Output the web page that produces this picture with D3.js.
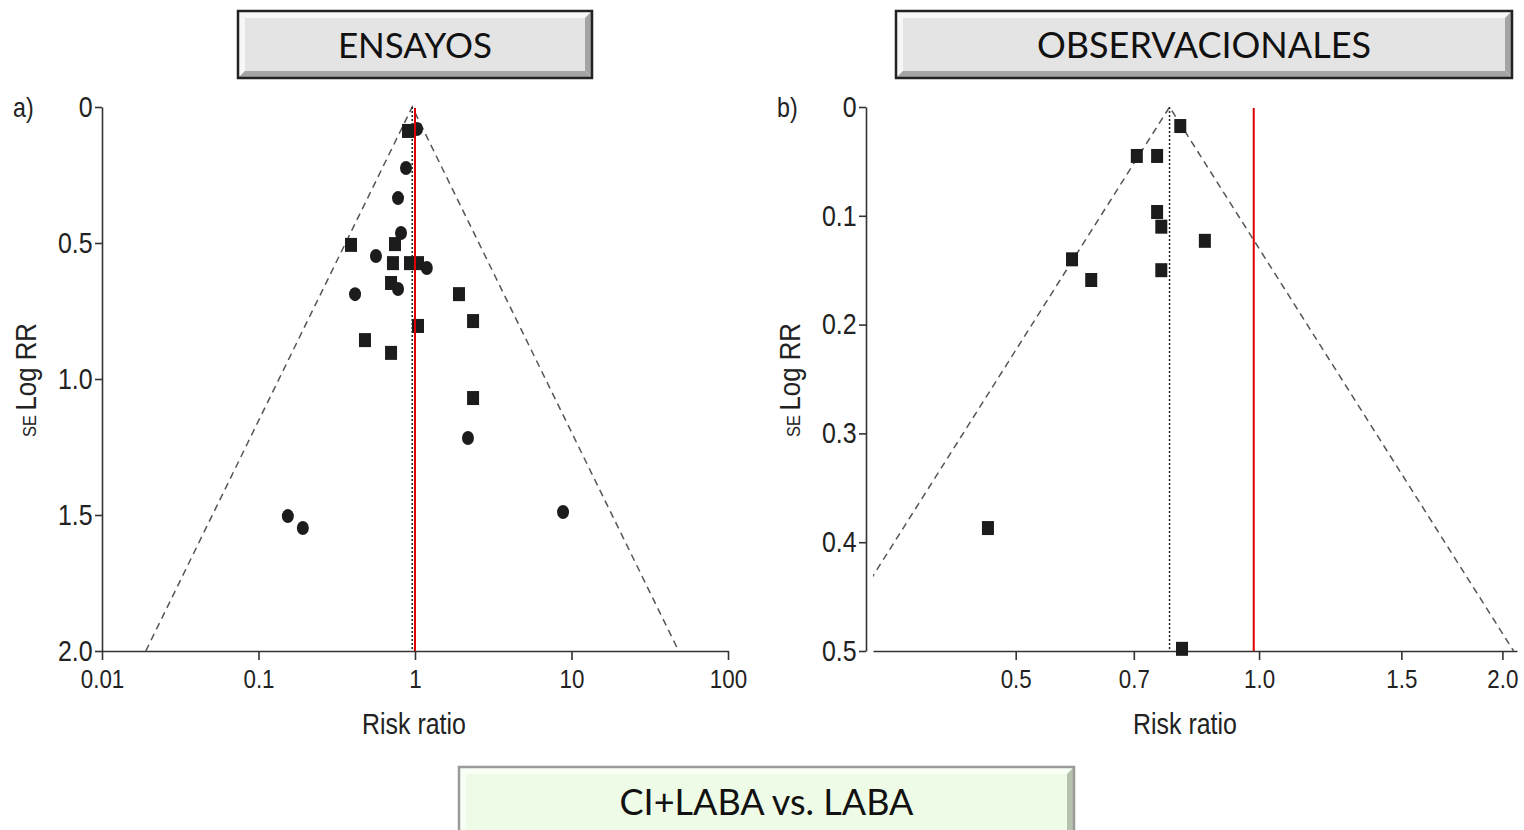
<!DOCTYPE html>
<html>
<head>
<meta charset="utf-8">
<script src="https://cdn.jsdelivr.net/npm/d3@7"></script>
<style>
  body { margin: 0; background: #fff; }
  svg text { font-family: "Liberation Sans Narrow", "Arial Narrow", "Liberation Sans", Arial, sans-serif; }
  .axis path, .axis line { stroke: #333; stroke-width: 1.6; }
  .axis text { font-size: 26px; fill: #222; }
  .yaxis text { font-size: 29px; }
  .box text { font-family: Lato, "Open Sans", sans-serif; }
</style>
</head>
<body>
<svg id="chart" width="1524" height="830"></svg>
<script>
// ---- data: ensayos (trials), risk ratio vs SE log RR
const trialCirclesRR = [1.03, 0.876, 0.779, 0.814, 0.563, 1.19, 0.779, 0.414, 2.18, 0.154, 0.192, 8.83]
const trialCirclesSE = [0.081, 0.224, 0.335, 0.463, 0.548, 0.592, 0.669, 0.688, 1.217, 1.504, 1.548, 1.489]
const trialSquaresRR = [0.902, 0.39, 0.745, 0.723, 0.929, 1.045, 0.703, 1.91, 2.35, 1.045, 0.479, 0.703, 2.35]
const trialSquaresSE = [0.088, 0.507, 0.504, 0.574, 0.574, 0.574, 0.647, 0.688, 0.787, 0.805, 0.857, 0.904, 1.07]
const trialPooled = 0.96
const trialRedLine = 1

// ---- data: observacionales
const obsSquaresRR = [0.799, 0.706, 0.748, 0.748, 0.757, 0.857, 0.587, 0.62, 0.757, 0.462, 0.803]
const obsSquaresSE = [0.0175, 0.045, 0.045, 0.0965, 0.11, 0.123, 0.14, 0.159, 0.15, 0.387, 0.498]
const obsPooled = 0.775
const obsRedLine = 0.985

const trialXTicks = [0.01, 0.1, 1, 10, 100]
const trialYTicks = [0, 0.5, 1.0, 1.5, 2.0]
const obsXTicks = [0.5, 0.7, 1.0, 1.5, 2.0]
const obsYTicks = [0, 0.1, 0.2, 0.3, 0.4, 0.5]

const narrow = 'scale(0.86,1)'
const svg = d3.select('#chart')

// beveled title boxes
function drawBox (x, y, w, h, label, fill, light, edge, border, size) {
  const g = svg.append('g').attr('class', 'box')
  const b = 7
  g.append('rect').attr('x', x).attr('y', y).attr('width', w).attr('height', h).attr('fill', fill)
  g.append('polygon').attr('points', [[x, y], [x + w, y], [x + w - b, y + b], [x + b, y + b]].join(' ')).attr('fill', light)
  g.append('polygon').attr('points', [[x, y], [x + b, y + b], [x + b, y + h - b], [x, y + h]].join(' ')).attr('fill', light)
  g.append('polygon').attr('points', [[x + w, y], [x + w, y + h], [x + w - b, y + h - b], [x + w - b, y + b]].join(' ')).attr('fill', edge)
  g.append('polygon').attr('points', [[x, y + h], [x + b, y + h - b], [x + w - b, y + h - b], [x + w, y + h]].join(' ')).attr('fill', edge)
  g.append('rect').attr('x', x).attr('y', y).attr('width', w).attr('height', h)
    .attr('fill', 'none').attr('stroke', border).attr('stroke-width', 2.5)
  g.append('text').attr('x', x + w / 2).attr('y', y + h / 2 - 1)
    .attr('text-anchor', 'middle').attr('dominant-baseline', 'central')
    .style('font-size', size + 'px').attr('fill', '#111').text(label)
}

drawBox(238, 11, 354, 67, 'ENSAYOS', '#e4e4e4', '#f7f7f7', '#a4a4a4', '#222', 35)
drawBox(896, 11, 616, 67, 'OBSERVACIONALES', '#e4e4e4', '#f7f7f7', '#a4a4a4', '#222', 36)
drawBox(459, 767, 615, 70, 'CI+LABA vs. LABA', '#eefbe6', '#f8fff4', '#b6c2ae', '#9a9a9a', 36)

function funnel (opt) {
  const x = d3.scaleLog().domain(opt.xDomain).range(opt.xRange)
  const y = d3.scaleLinear().domain(opt.yDomain).range([107, 651])
  const g = svg.append('g')

  // axes
  g.append('g').attr('class', 'axis yaxis').attr('transform', `translate(${opt.yAxisX},0)`)
    .call(d3.axisLeft(y).tickValues(opt.yTicks).tickSize(7).tickSizeOuter(0).tickFormat(opt.yFormat))
    .call(a => a.selectAll('text').attr('x', -11).attr('transform', narrow))
  g.append('g').attr('class', 'axis').attr('transform', 'translate(0,651)')
    .call(d3.axisBottom(x).tickValues(opt.xTicks).tickSize(9).tickSizeOuter(0).tickFormat(opt.xFormat))
    .call(a => a.selectAll('text').attr('dy', '0.95em').attr('transform', narrow))

  // clip for funnel lines
  const clipId = 'clip' + opt.id
  svg.append('clipPath').attr('id', clipId).append('rect')
    .attr('x', opt.xRange[0]).attr('y', 100).attr('width', opt.xRange[1] - opt.xRange[0] + 4).attr('height', 552)

  const seMax = opt.yDomain[1]
  const lo = opt.pooled * Math.exp(-1.96 * seMax)
  const hi = opt.pooled * Math.exp(1.96 * seMax)
  const fg = g.append('g').attr('clip-path', `url(#${clipId})`)
  fg.append('path')
    .attr('d', d3.line()([[x(lo), y(seMax)], [x(opt.pooled), y(0)], [x(hi), y(seMax)]]))
    .attr('fill', 'none').attr('stroke', '#555').attr('stroke-width', 1.5).attr('stroke-dasharray', '7,5')
  g.append('line').attr('x1', x(opt.pooled)).attr('x2', x(opt.pooled)).attr('y1', y(0)).attr('y2', y(seMax))
    .attr('stroke', '#222').attr('stroke-width', 1.5).attr('stroke-dasharray', '2,2')

  // markers
  g.selectAll('.sq').data(d3.zip(opt.sqRR, opt.sqSE)).join('rect')
    .attr('x', d => x(d[0]) - 6).attr('y', d => y(d[1]) - 7).attr('width', 12).attr('height', 14).attr('fill', '#1c1c1c')
  if (opt.ciRR) {
    g.selectAll('.ci').data(d3.zip(opt.ciRR, opt.ciSE)).join('ellipse')
      .attr('cx', d => x(d[0])).attr('cy', d => y(d[1])).attr('rx', 6).attr('ry', 7).attr('fill', '#1c1c1c')
  }

  // red reference line
  g.append('line').attr('x1', x(opt.redLine)).attr('x2', x(opt.redLine)).attr('y1', 108).attr('y2', 651)
    .attr('stroke', '#e00000').attr('stroke-width', 2)

  // labels
  g.append('text').attr('transform', `translate(${opt.tagX},117)${narrow}`).style('font-size', '27px').attr('fill', '#222').text(opt.tag)
  g.append('text').attr('transform', `translate(${(opt.xRange[0] + opt.xRange[1]) / 2 + opt.titleDx},734)${narrow}`)
    .attr('text-anchor', 'middle').style('font-size', '29px').attr('fill', '#222').text('Risk ratio')
  const yl = g.append('text').attr('transform', `translate(${opt.tagX + 23},380)rotate(-90)${narrow}`)
    .attr('text-anchor', 'middle').attr('fill', '#222').style('font-size', '30px')
  yl.append('tspan').style('font-size', '19px').text('SE ')
  yl.append('tspan').text('Log RR')
}

funnel({
  id: 'a',
  xDomain: [0.01, 100], xRange: [102, 728], yDomain: [0, 2], yAxisX: 102,
  xTicks: trialXTicks, yTicks: trialYTicks,
  xFormat: d => String(d), yFormat: d => d === 0 ? '0' : d3.format('.1f')(d),
  pooled: trialPooled, redLine: trialRedLine,
  sqRR: trialSquaresRR, sqSE: trialSquaresSE, ciRR: trialCirclesRR, ciSE: trialCirclesSE,
  tag: 'a)', tagX: 13, titleDx: -1
})

funnel({
  id: 'b',
  xDomain: [0.333, 2.085], xRange: [873, 1517], yDomain: [0, 0.5], yAxisX: 866,
  xTicks: obsXTicks, yTicks: obsYTicks,
  xFormat: d3.format('.1f'), yFormat: d => d === 0 ? '0' : d3.format('.1f')(d),
  pooled: obsPooled, redLine: obsRedLine, sqRR: obsSquaresRR, sqSE: obsSquaresSE,
  tag: 'b)', tagX: 777, titleDx: -10
})
</script>
</body>
</html>
